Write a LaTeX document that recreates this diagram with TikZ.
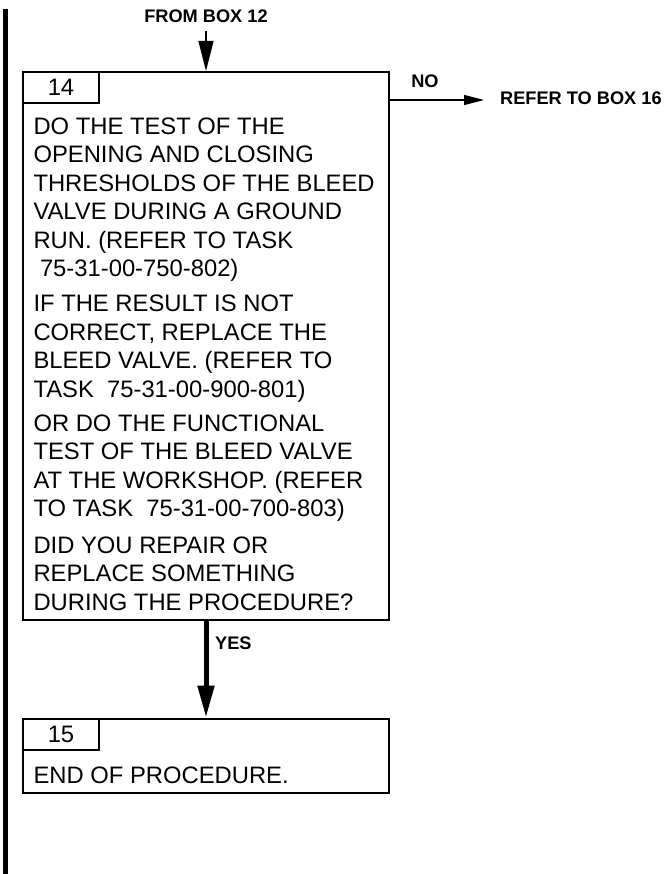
\documentclass[tikz,border=0pt]{standalone}
\usepackage{fontspec}
\setmainfont{Liberation Sans}
\usetikzlibrary{arrows.meta,positioning}
\tikzset{stepbox/.style={draw,line width=2pt,minimum width=366pt,inner sep=0pt},
 tab/.style={draw,line width=2pt,minimum width=76pt,minimum height=31pt,inner sep=0pt,anchor=north west,font=\fontsize{23.8}{28.5}\selectfont},
 txt/.style={align=left,inner sep=0pt,anchor=base west,font=\fontsize{23.8}{28.5}\selectfont},
 lbl/.style={inner sep=0pt,font=\bfseries\fontsize{18.2}{20}\selectfont},
 thin/.style={-{Triangle[length=30pt,width=15pt]},line width=1.3pt},
 fat/.style={-{Triangle[length=32pt,width=16pt]},line width=5pt},
 side/.style={-{Triangle[length=20pt,width=10pt]},line width=1.3pt}}

\begin{document}
\begin{tikzpicture}[x=1pt,y=-1pt]
\useasboundingbox (0,0) rectangle (669,874);
% revision bar
\draw[line width=5pt] (5.8,9.3) -- (5.8,874);
\node[lbl] (from12) at (206,16.5) {FROM BOX 12};
% box 14 (text nodes sit on their last baseline)
\node[stepbox,minimum height=548pt] (b14) at (206,346) {};
\node[tab] (n14) at (b14.north west) {14};
\node[txt] (p1) at (33.3,276.7) {DO THE TEST OF THE\\OPENING AND CLOSING\\THRESHOLDS OF THE BLEED\\VALVE DURING A GROUND\\RUN. (REFER TO TASK\\\hspace*{6.5pt}75-31-00-750-802)};
\node[txt] (p2) at (33.3,397.3) {IF THE RESULT IS NOT\\CORRECT, REPLACE THE\\BLEED VALVE. (REFER TO\\TASK~~75-31-00-900-801)};
\node[txt] (p3) at (33.3,516.7) {OR DO THE FUNCTIONAL\\TEST OF THE BLEED VALVE\\AT THE WORKSHOP. (REFER\\TO TASK~~75-31-00-700-803)};
\node[txt] (p4) at (33.3,610) {DID YOU REPAIR OR\\REPLACE SOMETHING\\DURING THE PROCEDURE?};
% box 15
\node[stepbox,minimum height=74.5pt] (b15) at (206,755.8) {};
\node[tab] (n15) at (b15.north west) {15};
\node[txt] (endp) at (33.3,783.3) {END OF PROCEDURE.};
% exits
\coordinate (no) at (389,100);
\node[lbl,anchor=west,inner xsep=16pt] (ref16) at (484,98.3) {REFER TO BOX 16};
\node[lbl] (nolab) at (425,81.5) {NO};
\node[lbl,anchor=west] (yeslab) at (215,643) {YES};
\draw[thin,shorten <=8pt] (from12) -- (b14);
\draw[side] (no) -- (no -| ref16.west);
\draw[fat] (b14) -- (b15);
\end{tikzpicture}
\end{document}
